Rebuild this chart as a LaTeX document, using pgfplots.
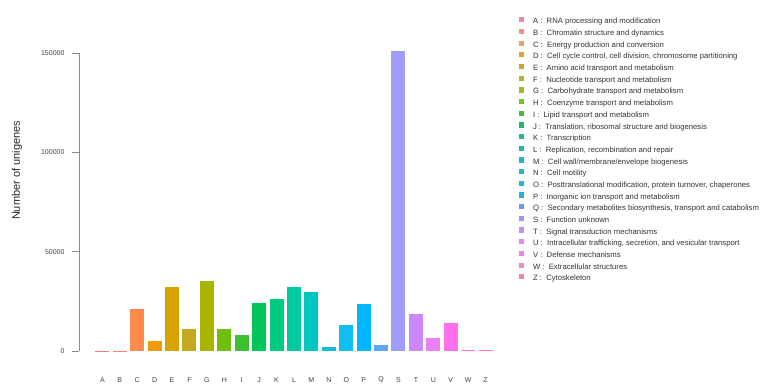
\documentclass[border=0pt]{standalone}
\usepackage{pgfplots}
\pgfplotsset{compat=1.18}
\usepackage{fontspec}
\setmainfont{Liberation Sans}
% bar colours
\definecolor{cA}{HTML}{F77A8E}
\definecolor{cB}{HTML}{FA8070}
\definecolor{cC}{HTML}{FF8C4C}
\definecolor{cD}{HTML}{F29A0A}
\definecolor{cE}{HTML}{D8A200}
\definecolor{cF}{HTML}{C4A820}
\definecolor{cG}{HTML}{A8B400}
\definecolor{cH}{HTML}{70BE10}
\definecolor{cI}{HTML}{3CBF30}
\definecolor{cJ}{HTML}{00C65A}
\definecolor{cK}{HTML}{00CA80}
\definecolor{cL}{HTML}{00CAA0}
\definecolor{cM}{HTML}{00C6C0}
\definecolor{cN}{HTML}{10BED8}
\definecolor{cO}{HTML}{10BEF0}
\definecolor{cP}{HTML}{00B6FF}
\definecolor{cQ}{HTML}{5EA8F2}
\definecolor{cS}{HTML}{A09CFA}
\definecolor{cT}{HTML}{CC88FA}
\definecolor{cU}{HTML}{E880F6}
\definecolor{cV}{HTML}{FF70EE}
\definecolor{cW}{HTML}{FF72CC}
\definecolor{cZ}{HTML}{FF76A8}
% legend colours (paler)
\definecolor{lA}{HTML}{E88AA0}
\definecolor{lB}{HTML}{F0908A}
\definecolor{lC}{HTML}{E8A070}
\definecolor{lD}{HTML}{E0A030}
\definecolor{lE}{HTML}{C8A830}
\definecolor{lF}{HTML}{B8B030}
\definecolor{lG}{HTML}{A8B430}
\definecolor{lH}{HTML}{80BC30}
\definecolor{lI}{HTML}{48B840}
\definecolor{lJ}{HTML}{20B868}
\definecolor{lK}{HTML}{20B890}
\definecolor{lL}{HTML}{20B8A8}
\definecolor{lM}{HTML}{20B8B8}
\definecolor{lN}{HTML}{20B8C8}
\definecolor{lO}{HTML}{20B8D8}
\definecolor{lP}{HTML}{20B0E0}
\definecolor{lQ}{HTML}{7098F0}
\definecolor{lS}{HTML}{A098F0}
\definecolor{lT}{HTML}{C090E8}
\definecolor{lU}{HTML}{E088F0}
\definecolor{lV}{HTML}{F080E8}
\definecolor{lW}{HTML}{E888D0}
\definecolor{lZ}{HTML}{E888A8}
\begin{document}
\begin{tikzpicture}
\useasboundingbox (0,0) rectangle (766pt,389pt);
\begin{axis}[
  at={(79pt,38pt)}, anchor=south west,
  scale only axis, width=415.3pt, height=298pt,
  ybar, bar width=14pt,
  xmin=-1.34, xmax=22.5,
  ymin=0, ymax=150000,
  clip=false,
  axis y line=left, axis x line=bottom,
  axis line style={-, draw=gray!110!black, line width=0.8pt},
  x axis line style={draw=none},
  xtick={0,...,22},
  xticklabels={A,B,C,D,E,F,G,H,I,J,K,L,M,N,O,P,Q,S,T,U,V,W,Z},
  xtick style={draw=none},
  xticklabel style={anchor=center, yshift=-22pt, font=\fontsize{7}{8}\selectfont, text=black!75},
  ytick={0,50000,100000,150000},
  ytick style={draw=gray!110!black, line width=0.8pt},
  tick align=outside, major tick length=7pt,
  scaled y ticks=false,
  yticklabel style={/pgf/number format/fixed, /pgf/number format/1000 sep={}, font=\fontsize{7}{8}\selectfont, text=black!75, xshift=-4pt},
  /pgf/number format/assume math mode=true,
  ylabel={Number of unigenes},
  ylabel style={at={(axis description cs:-0.149,0.606)}, anchor=center, font=\fontsize{11}{13}\selectfont, text=black!85},
  legend cell align=left,
  legend image code/.code={\fill[#1,draw=none] (0pt,-0.3pt) rectangle (5pt,4.9pt); \path[draw=none,fill=none] (0pt,0pt) -- (14pt,0pt);},
  legend style={at={(axis description cs:1.0595,1.12)}, anchor=north west, draw=none, fill=none,
    inner sep=0pt, outer sep=0pt, row sep=3.53pt, column sep=0pt,
    font=\fontsize{7.7}{8}\selectfont, text=black!80,
    nodes={inner sep=0pt, outer sep=0pt, text height=5pt, text depth=1.5pt}},
  cbar/.style={fill=#1, draw=none, bar shift=0pt, forget plot},
]
\addplot[cbar=cA] coordinates {(0,60)};
\addplot[cbar=cB] coordinates {(1,250)};
\addplot[cbar=cC] coordinates {(2,21000)};
\addplot[cbar=cD] coordinates {(3,5200)};
\addplot[cbar=cE] coordinates {(4,32400)};
\addplot[cbar=cF] coordinates {(5,11200)};
\addplot[cbar=cG] coordinates {(6,35100)};
\addplot[cbar=cH] coordinates {(7,10900)};
\addplot[cbar=cI] coordinates {(8,7900)};
\addplot[cbar=cJ] coordinates {(9,24300)};
\addplot[cbar=cK] coordinates {(10,26000)};
\addplot[cbar=cL] coordinates {(11,32400)};
\addplot[cbar=cM] coordinates {(12,29700)};
\addplot[cbar=cN] coordinates {(13,2200)};
\addplot[cbar=cO] coordinates {(14,12900)};
\addplot[cbar=cP] coordinates {(15,23700)};
\addplot[cbar=cQ] coordinates {(16,2900)};
\addplot[cbar=cS] coordinates {(17,151200)};
\addplot[cbar=cT] coordinates {(18,18600)};
\addplot[cbar=cU] coordinates {(19,6400)};
\addplot[cbar=cV] coordinates {(20,13900)};
\addplot[cbar=cW] coordinates {(21,400)};
\addplot[cbar=cZ] coordinates {(22,500)};
\addlegendimage{fill=lA}\addlegendentry{A :~~RNA processing and modification}
\addlegendimage{fill=lB}\addlegendentry{B :~~Chromatin structure and dynamics}
\addlegendimage{fill=lC}\addlegendentry{C :~~Energy production and conversion}
\addlegendimage{fill=lD}\addlegendentry{D :~~Cell cycle control, cell division, chromosome partitioning}
\addlegendimage{fill=lE}\addlegendentry{E :~~Amino acid transport and metabolism}
\addlegendimage{fill=lF}\addlegendentry{F :~~Nucleotide transport and metabolism}
\addlegendimage{fill=lG}\addlegendentry{G :~~Carbohydrate transport and metabolism}
\addlegendimage{fill=lH}\addlegendentry{H :~~Coenzyme transport and metabolism}
\addlegendimage{fill=lI}\addlegendentry{I :~~Lipid transport and metabolism}
\addlegendimage{fill=lJ}\addlegendentry{J :~~Translation, ribosomal structure and biogenesis}
\addlegendimage{fill=lK}\addlegendentry{K :~~Transcription}
\addlegendimage{fill=lL}\addlegendentry{L :~~Replication, recombination and repair}
\addlegendimage{fill=lM}\addlegendentry{M :~~Cell wall/membrane/envelope biogenesis}
\addlegendimage{fill=lN}\addlegendentry{N :~~Cell motility}
\addlegendimage{fill=lO}\addlegendentry{O :~~Posttranslational modification, protein turnover, chaperones}
\addlegendimage{fill=lP}\addlegendentry{P :~~Inorganic ion transport and metabolism}
\addlegendimage{fill=lQ}\addlegendentry{Q :~~Secondary metabolites biosynthesis, transport and catabolism}
\addlegendimage{fill=lS}\addlegendentry{S :~~Function unknown}
\addlegendimage{fill=lT}\addlegendentry{T :~~Signal transduction mechanisms}
\addlegendimage{fill=lU}\addlegendentry{U :~~Intracellular trafficking, secretion, and vesicular transport}
\addlegendimage{fill=lV}\addlegendentry{V :~~Defense mechanisms}
\addlegendimage{fill=lW}\addlegendentry{W :~~Extracellular structures}
\addlegendimage{fill=lZ}\addlegendentry{Z :~~Cytoskeleton}
\end{axis}
\end{tikzpicture}
\end{document}
